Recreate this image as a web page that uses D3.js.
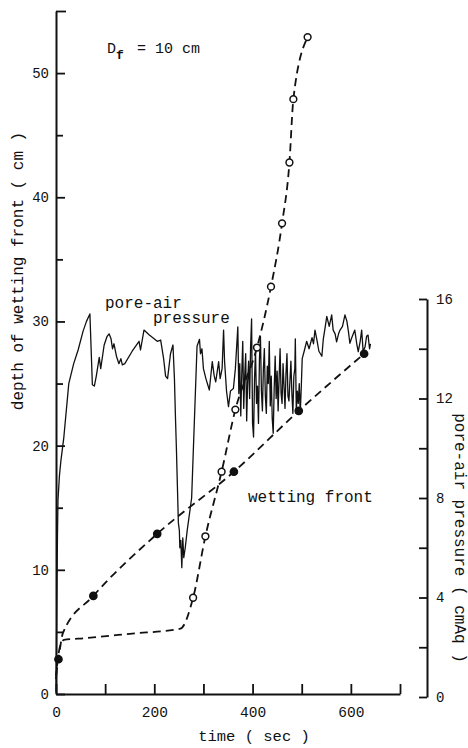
<!DOCTYPE html>
<html>
<head>
<meta charset="utf-8">
<script src="https://cdn.jsdelivr.net/npm/d3@7"></script>
<style>
  html, body { margin: 0; padding: 0; background: #fff; }
  svg { display: block; }
  text { font-family: "Liberation Mono", "Courier New", "DejaVu Sans Mono", monospace; fill: #111; }
</style>
</head>
<body>
<svg id="chart" width="468" height="748"></svg>
<script>
// Wetting front (open circles): time (s) and depth (cm); marked = measured point
const frontOpenT      = [0, 2, 4, 8, 16, 60, 150, 253, 279, 304, 337, 365, 409, 437.5, 460, 475, 483, 512];
const frontOpenCm     = [1.2, 2.2, 2.9, 3.8, 4.35, 4.5, 4.85, 5.26, 7.75, 12.7, 17.9, 22.9, 27.9, 32.8, 37.9, 42.8, 47.9, 52.9];
const frontOpenMarked = [0, 0, 0, 0, 0, 0, 0, 0, 1, 1, 1, 1, 1, 1, 1, 1, 1, 1];

// Wetting front (filled circles): time (s) and depth (cm)
const frontFillT      = [0, 5, 14, 76, 206, 362, 494, 627];
const frontFillCm     = [1.5, 2.8, 4.9, 7.9, 12.9, 17.9, 22.8, 27.4];
const frontFillMarked = [0, 1, 0, 1, 1, 1, 1, 1];

// Pore-air pressure record: time (s) and pressure (cmAq)
const pressT = [
  0, 1, 2, 3, 4, 7, 10, 16, 26, 36, 45, 55, 62, 69, 74, 78, 82, 88, 91, 98,
  104, 108, 112, 115, 118, 123, 128, 132, 135, 140, 155, 169, 172, 179, 190, 206, 213, 219, 223, 227,
  233, 238, 241, 243, 245, 247, 249, 251, 252, 254, 256, 258, 260, 263, 267, 276, 287, 292, 294, 297,
  300, 305, 312, 318, 322, 325, 331, 334, 338, 341, 343, 347, 351, 355, 361, 365, 370, 372, 374, 376,
  378, 380, 382, 384, 386, 388, 390, 392, 394, 396, 398, 400, 402, 404, 406, 408, 410, 412, 414, 416,
  418, 420, 422, 424, 426, 428, 430, 432, 434, 436, 438, 440, 442, 444, 446, 448, 450, 452, 454, 456,
  458, 460, 462, 464, 466, 468, 470, 472, 474, 476, 478, 480, 482, 484, 486, 487, 489, 491, 493, 495,
  497, 499, 501, 505, 510, 515, 521, 524, 527, 531, 535, 541, 544, 548, 551, 556, 561, 564, 568, 571,
  575, 578, 583, 588, 592, 595, 598, 601, 605, 608, 612, 615, 619, 622, 625, 629, 632, 635, 638, 640
];
const pressP = [
  0.2, 2.0, 4.5, 6.5, 7.9, 8.9, 9.5, 10.45, 12.6, 13.4, 13.95, 14.7, 15.1, 15.4, 12.55, 12.5, 12.9, 13.65, 13.2, 14.15,
  14.5, 14.6, 14.4, 14.0, 14.2, 13.7, 13.4, 13.6, 13.35, 13.4, 13.9, 14.3, 13.95, 14.75, 14.55, 14.3, 14.35, 13.6, 12.9, 12.8,
  13.8, 14.15, 12.8, 11.3, 10.0, 8.5, 7.0, 6.7, 6.0, 6.3, 5.2, 6.4, 5.6, 6.0, 6.7, 8.0, 14.1, 14.38, 13.8, 14.0,
  13.2, 12.8, 12.34, 13.48, 12.9, 12.67, 13.48, 12.8, 13.2, 14.75, 13.5, 12.3, 11.67, 12.3, 12.4, 13.2, 14.88, 12.2, 13.4, 11.3,
  13.0, 14.3, 11.6, 12.9, 13.8, 11.1, 12.7, 13.5, 12.0, 14.1, 15.2, 11.0, 10.45, 12.8, 13.9, 11.8, 12.5, 11.0, 13.6, 14.5,
  12.3, 11.5, 13.2, 14.0, 12.1, 11.4, 13.3, 12.6, 14.3, 11.7, 12.9, 11.2, 10.6, 12.4, 13.7, 12.0, 13.1, 11.5, 12.8, 14.0,
  12.2, 11.8, 13.4, 12.5, 11.6, 13.0, 13.8, 12.1, 11.9, 12.7, 13.5, 12.2, 11.4, 12.9, 13.2, 14.4, 11.5, 12.3, 11.8, 12.6,
  11.4, 12.4, 13.6, 13.9, 14.3, 14.0, 14.45, 14.2, 14.75, 14.35, 13.9, 13.7, 14.4, 14.9, 15.3, 14.9, 15.36, 14.75, 14.6, 14.28,
  14.6, 14.75, 14.9, 15.36, 15.1, 14.7, 14.22, 14.4, 14.6, 14.75, 14.2, 13.88, 14.3, 14.75, 13.9, 14.08, 14.5, 14.55, 14.0, 14.2
];

// Axis ticks
const depthMajor = [0, 10, 20, 30, 40, 50];
const depthMinor = [5, 15, 25, 35, 45, 55];
const timeTicks  = [0, 100, 200, 300, 400, 500, 600, 700];
const timeLabels = [0, 200, 400, 600];
const pressTicks  = [0, 2, 4, 6, 8, 10, 12, 14, 16];
const pressLabels = [0, 4, 8, 12, 16];

const svg = d3.select("#chart");

const x  = d3.scaleLinear().domain([0, 700]).range([56, 400]);
const yL = d3.scaleLinear().domain([0, 55]).range([694, 11]);
const yR = d3.scaleLinear().domain([0, 16]).range([697, 299]);

function styleAxis(g) {
  g.selectAll("path.domain").attr("stroke", "#111").attr("stroke-width", 2);
  g.selectAll(".tick line").attr("stroke", "#111").attr("stroke-width", 1.8);
  g.selectAll(".tick text").attr("font-family", "Liberation Mono, Courier New, monospace")
    .attr("font-size", 14).attr("fill", "#111");
}

// Left axis: depth of wetting front
const gL = svg.append("g").attr("transform", `translate(${x(0)},0)`)
  .call(d3.axisLeft(yL).tickValues(depthMajor).tickSizeInner(-9).tickSizeOuter(0).tickPadding(7));
styleAxis(gL);
const gLm = svg.append("g").attr("transform", `translate(${x(0)},0)`)
  .call(d3.axisLeft(yL).tickValues(depthMinor).tickSizeInner(-7).tickSizeOuter(0).tickFormat(""));
styleAxis(gLm);
gLm.select("path.domain").remove();
gLm.selectAll(".tick line").filter(d => d === 55).attr("x2", 10);

// Bottom axis: time
const gB = svg.append("g").attr("transform", `translate(0,${yL(0)})`)
  .call(d3.axisBottom(x).tickValues(timeTicks).tickSizeInner(-10).tickSizeOuter(0).tickPadding(13)
    .tickFormat(d => timeLabels.includes(d) ? d : ""));
styleAxis(gB);
gB.selectAll(".tick text").attr("font-size", 14.5);

// Right axis: pore-air pressure
const gR = svg.append("g").attr("transform", "translate(427,0)")
  .call(d3.axisRight(yR).tickValues(pressTicks).tickSizeInner(-8).tickSizeOuter(0).tickPadding(9)
    .tickFormat(d => pressLabels.includes(d) ? d : ""));
styleAxis(gR);

// Pore-air pressure trace
const pressData = pressT.map((t, i) => ({ t, p: pressP[i] }));
svg.append("path")
  .datum(pressData)
  .attr("fill", "none")
  .attr("stroke", "#111")
  .attr("stroke-width", 1.3)
  .attr("stroke-linejoin", "round")
  .attr("d", d3.line().x(d => x(d.t)).y(d => yR(d.p)));

// Wetting front curves
function frontSeries(ts, cms, marked, filled) {
  const data = ts.map((t, i) => ({ t, cm: cms[i], m: marked[i] }));
  svg.append("path")
    .datum(data)
    .attr("fill", "none")
    .attr("stroke", "#111")
    .attr("stroke-width", 1.8)
    .attr("stroke-dasharray", "8,5")
    .attr("d", d3.line().curve(d3.curveMonotoneX).x(d => x(d.t)).y(d => yL(d.cm)));
  svg.append("g").selectAll("circle")
    .data(data.filter(d => d.m))
    .join("circle")
    .attr("cx", d => x(d.t))
    .attr("cy", d => yL(d.cm))
    .attr("r", filled ? 3.6 : 3.4)
    .attr("fill", filled ? "#111" : "#fff")
    .attr("stroke", "#111")
    .attr("stroke-width", 1.5);
}
frontSeries(frontFillT, frontFillCm, frontFillMarked, true);
frontSeries(frontOpenT, frontOpenCm, frontOpenMarked, false);

// Annotations
const df = svg.append("text").attr("x", 107).attr("y", 53).attr("font-size", 15);
df.append("tspan").text("D");
df.append("tspan").attr("dy", 6).attr("font-size", 13).attr("font-weight", "bold").text("f");
df.append("tspan").attr("x", 137).attr("dy", -6).text("= 10 cm");

svg.append("text").attr("x", 105).attr("y", 308).attr("font-size", 16).text("pore-air");
svg.append("text").attr("x", 153).attr("y", 323).attr("font-size", 16).text("pressure");
svg.append("text").attr("x", 248).attr("y", 502).attr("font-size", 16).text("wetting front");

// Axis titles
svg.append("text")
  .attr("transform", "translate(23,271) rotate(-90)")
  .attr("text-anchor", "middle")
  .attr("font-size", 16)
  .text("depth of wetting front ( cm )");
svg.append("text")
  .attr("transform", "translate(455,538) rotate(90)")
  .attr("text-anchor", "middle")
  .attr("font-size", 16)
  .text("pore-air pressure ( cmAq )");
svg.append("text")
  .attr("x", 254).attr("y", 741)
  .attr("text-anchor", "middle")
  .attr("font-size", 15.5)
  .text("time ( sec )");
</script>
</body>
</html>
